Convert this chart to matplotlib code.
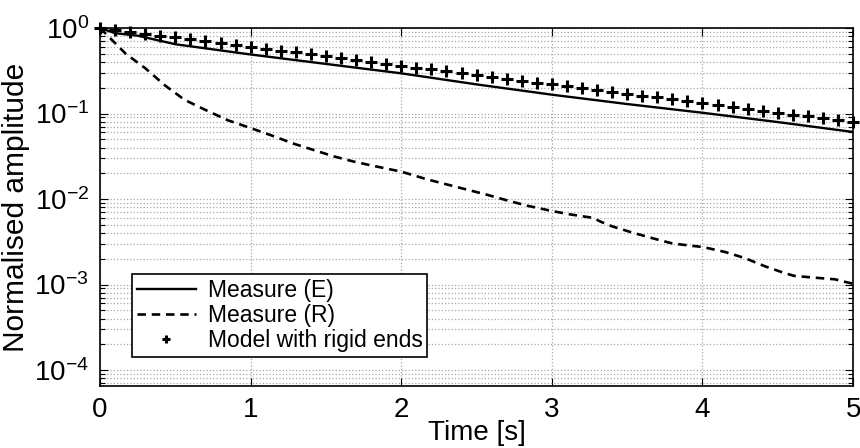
import numpy as np
import matplotlib.pyplot as plt
from matplotlib.ticker import LogLocator, NullFormatter

plt.rcParams['font.family'] = ['Liberation Sans', 'DejaVu Sans']
plt.rcParams['mathtext.fontset'] = 'custom'
plt.rcParams['mathtext.rm'] = 'Liberation Sans'

# Measure (E)
t_e = [0, 0.1, 0.25, 0.5, 1.0, 1.5, 2.0, 2.5, 3.0, 3.5, 4.0, 4.5, 5.0]
a_e = [1.0, 0.87, 0.813, 0.646, 0.490, 0.380, 0.295, 0.219, 0.166, 0.129, 0.102, 0.0794, 0.0608]

# Measure (R)
t_r = [0, 0.17, 0.30, 0.43, 0.56, 0.70, 0.85, 1.0, 1.16, 1.28, 1.55, 1.68, 1.81, 2.0,
       2.17, 2.37, 2.57, 2.71, 2.84, 3.0, 3.12, 3.27, 3.33, 3.40, 3.53, 3.67, 3.80,
       3.94, 4.0, 4.15, 4.28, 4.42, 4.55, 4.61, 4.75, 4.88, 4.95, 5.0]
a_r = [1.0, 0.501, 0.339, 0.214, 0.145, 0.110, 0.0832, 0.0676, 0.0537, 0.0447, 0.0316,
       0.0275, 0.0245, 0.0209, 0.0170, 0.0138, 0.0112, 0.00955, 0.00832, 0.00724,
       0.00661, 0.00603, 0.00537, 0.00479, 0.00407, 0.00347, 0.00302, 0.00282,
       0.00275, 0.00240, 0.00204, 0.00162, 0.00135, 0.00126, 0.00120, 0.00115,
       0.00107, 0.00102]

# Model with rigid ends (one point every 0.1 s)
t_m = [i / 10 for i in range(51)]
a_m = [1.000, 0.951, 0.904, 0.859, 0.817, 0.776, 0.738, 0.702, 0.667, 0.634,
       0.603, 0.573, 0.545, 0.518, 0.492, 0.468, 0.445, 0.423, 0.402, 0.382,
       0.363, 0.345, 0.328, 0.312, 0.297, 0.282, 0.268, 0.255, 0.242, 0.230,
       0.219, 0.208, 0.198, 0.188, 0.179, 0.170, 0.161, 0.154, 0.146, 0.139,
       0.132, 0.125, 0.119, 0.113, 0.108, 0.102, 0.0973, 0.0925, 0.0879, 0.0836,
       0.0794]

fig = plt.figure(figsize=(8.6, 4.48), dpi=100)
ax = fig.add_axes([0.1163, 0.1384, 0.8757, 0.7991])

ax.semilogy(t_e, a_e, 'k-', lw=1.7, label='Measure (E)')
ax.semilogy(t_r, a_r, 'k--', lw=1.9, dashes=(3.2, 2.2), label='Measure (R)')
ax.semilogy(t_m, a_m, 'k+', ms=8, mew=2.2, label='Model with rigid ends', clip_on=False)

ax.set_xlim(0, 5)
ax.set_ylim(6.5e-5, 1)
ax.set_xticks([0, 1, 2, 3, 4, 5])
ax.yaxis.set_major_locator(LogLocator(base=10, numticks=10))
ax.yaxis.set_minor_locator(LogLocator(base=10, subs=np.arange(2, 10), numticks=20))
ax.yaxis.set_minor_formatter(NullFormatter())

ax.tick_params(which='both', direction='in', top=True, right=True, labelsize=20)
ax.tick_params(which='major', length=6, width=0.8, pad=8)
ax.tick_params(which='minor', length=3.5, width=0.8)
ax.tick_params(axis='x', which='minor', bottom=False, top=False)

ax.grid(True, which='major', axis='both', linestyle=':', color='#a8a8a8', lw=0.9)
ax.grid(True, which='minor', axis='y', linestyle=':', color='#a8a8a8', lw=0.9)
for s in ax.spines.values():
    s.set_linewidth(1.2)

ax.set_xlabel('Time [s]', fontsize=20, labelpad=-2)
ax.set_ylabel('Normalised amplitude', fontsize=21.5, labelpad=3)

leg = ax.legend(loc='lower left', bbox_to_anchor=(0.0425, 0.081), borderaxespad=0,
                fontsize=16.5, fancybox=False, framealpha=1, edgecolor='k',
                handlelength=2.6, borderpad=0.2, labelspacing=0.1, handletextpad=0.5,
                markerscale=0.75)
leg.get_frame().set_linewidth(1.2)

fig.savefig('out.png', dpi=100)
